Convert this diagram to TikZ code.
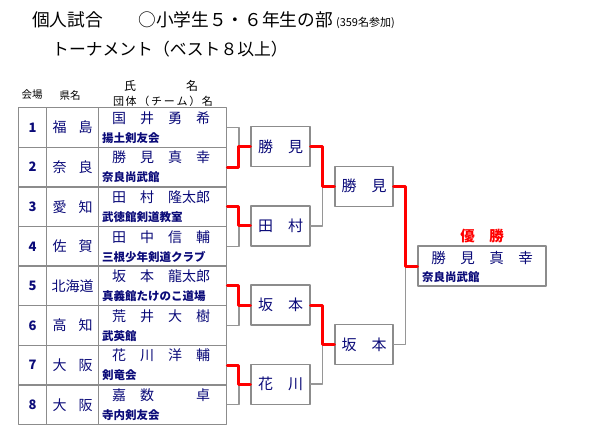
\documentclass[tikz,border=0pt]{standalone}
\usepackage{fontspec}
\setmainfont{Noto Sans CJK JP}
\usetikzlibrary{calc}

\definecolor{inkNavy}{RGB}{10,10,120}
\definecolor{lineGray}{RGB}{150,150,150}
\definecolor{boxGray}{RGB}{140,140,140}
\definecolor{winRed}{RGB}{255,0,0}

\newcommand{\fs}[1]{\fontsize{#1pt}{#1pt}\selectfont}

\begin{document}
\begin{tikzpicture}[x=1pt, y=-1pt, line cap=round, line join=round]

% ---------------- styles ----------------
\tikzset{
  cell/.style     ={draw=boxGray, line width=1.4pt, inner sep=0pt, minimum height=\RowH pt, anchor=north west},
  numcell/.style  ={cell, minimum width=28pt, text=inkNavy, font=\fs{13}\bfseries},
  prefcell/.style ={cell, minimum width=52pt, text=inkNavy, font=\fs{14}},
  namecell/.style ={cell, minimum width=128pt},
  player/.style   ={anchor=west, inner sep=0pt, text=inkNavy, font=\fs{14}},
  team/.style     ={anchor=west, inner sep=0pt, text=inkNavy, font=\fs{11.5}\bfseries},
  match/.style    ={draw=boxGray, line width=1.4pt, minimum width=59pt, minimum height=40pt, inner sep=0pt, text=inkNavy, font=\fs{15}},
  champ/.style    ={draw=boxGray, line width=1.4pt, minimum width=128pt, minimum height=40pt, inner sep=0pt},
  lose/.style     ={draw=lineGray, line width=1.5pt},
  win/.style      ={draw=winRed, line width=3pt},
  bracket/.style  ={to path={-| ($(\tikztostart)!.5!(\tikztotarget)$) |- (\tikztotarget)}},
  head/.style     ={anchor=west, inner sep=0pt, font=\fs{17.7}},
  colhead/.style  ={inner sep=0pt, font=\fs{11}}
}

% ---------------- parameters ----------------
\def\RowH{39.6}   % row height of the entry table
\def\yTop{107}    % top of first row
\def\xA{18}       % venue column
\def\xB{46}       % prefecture column
\def\xC{98}       % name column
\def\xName{112}   % player name start
\def\xTeam{102}   % team name start

% page
\useasboundingbox (0,0) rectangle (600,440);

% helper: one table row  #1 index, #2 number, #3 prefecture, #4 player, #5 team
\newcommand{\PlayerRow}[5]{%
  \pgfmathsetmacro{\rowTop}{\yTop+(#1-1)*\RowH}
  \node[numcell]  (no#1)   at (\xA,\rowTop) {#2};
  \node[prefcell] (pref#1) at (\xB,\rowTop) {\makebox[40pt]{#3}};
  \node[namecell] (name#1) at (\xC,\rowTop) {};
  \node[player]   (pl#1)   at (\xName,\rowTop+11) {#4};
  \node[team]     (tm#1)   at (\xTeam,\rowTop+31) {#5};
}

% ---------------- title ----------------
\node[head] (title) at (32,20) {個人試合　　○小学生５・６年生の部\,{\fs{11}(359名参加)}};
\node[head, font=\fs{16.8}] (subtitle) at (52,49) {トーナメント（ベスト８以上）};

% ---------------- column heads ----------------
\node[colhead, font=\fs{10.5}] (hVenue) at (32,95)  {会場};
\node[colhead, font=\fs{10.5}] (hPref)  at (70,95)  {県名};
\node[colhead, font=\fs{12}]   (hName)  at (130,86) {氏};
\node[colhead, font=\fs{12}]   (hName2) at (192,86) {名};
\node[colhead, font=\fs{11}]   (hTeam)  at (163,101)
  {\makebox[100pt]{団\hfill{}体\hfill{}（\hfill{}チ\hfill{}ー\hfill{}ム\hfill{}）\hfill{}名}};

% ---------------- entries ----------------
\PlayerRow{1}{1}{福\hfill{}島}{国　井　勇　希}{揚土剣友会}
\PlayerRow{2}{2}{奈\hfill{}良}{勝　見　真　幸}{奈良尚武館}
\PlayerRow{3}{3}{愛\hfill{}知}{田　村　隆太郎}{武徳館剣道教室}
\PlayerRow{4}{4}{佐\hfill{}賀}{田　中　信　輔}{三根少年剣道クラブ}
\PlayerRow{5}{5}{北海道}{坂　本　龍太郎}{真義館たけのこ道場}
\PlayerRow{6}{6}{高\hfill{}知}{荒　井　大　樹}{武英館}
\PlayerRow{7}{7}{大\hfill{}阪}{花　川　洋　輔}{剣竜会}
\PlayerRow{8}{8}{大\hfill{}阪}{嘉　数　　　卓}{寺内剣友会}

% ---------------- match boxes ----------------
\node[match] (m1) at (280.5,146.6) {勝　見};
\node[match] (m2) at (280.5,225.8) {田　村};
\node[match] (m3) at (280.5,305.0) {坂　本};
\node[match] (m4) at (280.5,384.2) {花　川};

\node[match, minimum width=58pt] (s1) at (364,186.2) {勝　見};
\node[match, minimum width=58pt] (s2) at (364,344.6) {坂　本};

\node[champ] (champ) at (482,266) {};
\node[inner sep=0pt, text=winRed, font=\fs{14.5}\bfseries] (champTitle) at (482,236) {優　勝};
\node[inner sep=0pt, text=inkNavy, font=\fs{14.5}] (champName) at (482,257.5) {勝　見　真　幸};
\node[team] (champTeam) at (422,277) {奈良尚武館};

% ---------------- brackets: losers ----------------
\draw[lose, bracket] (name1.east) to (m1.west);
\draw[lose, bracket] (name4.east) to (m2.west);
\draw[lose, bracket] (name6.east) to (m3.west);
\draw[lose, bracket] (name8.east) to (m4.west);
\draw[lose, bracket] (m2.east) to (s1.west);
\draw[lose, bracket] (m4.east) to (s2.west);
\draw[lose, bracket] (s2.east) to (champ.west);

% ---------------- brackets: winners ----------------
\draw[win, bracket] (name2.east) to (m1.west);
\draw[win, bracket] (name3.east) to (m2.west);
\draw[win, bracket] (name5.east) to (m3.west);
\draw[win, bracket] (name7.east) to (m4.west);
\draw[win, bracket] (m1.east) to (s1.west);
\draw[win, bracket] (m3.east) to (s2.west);
\draw[win, bracket] (s1.east) to (champ.west);

\end{tikzpicture}
\end{document}
